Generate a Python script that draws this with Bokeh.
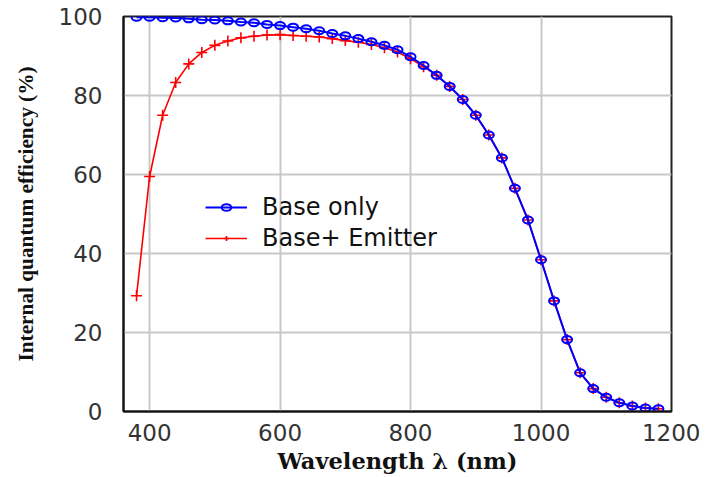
from bokeh.plotting import figure
from bokeh.models import Legend, LegendItem, FixedTicker, ColumnDataSource
from bokeh.embed import file_html
from bokeh.resources import INLINE

wavelength = [380, 400, 420, 440, 460, 480, 500, 520, 540, 560, 580, 600, 620, 640,
              660, 680, 700, 720, 740, 760, 780, 800, 820, 840, 860, 880, 900, 920,
              940, 960, 980, 1000, 1020, 1040, 1060, 1080, 1100, 1120, 1140, 1160, 1180]
base_only = [99.8, 99.8, 99.7, 99.6, 99.4, 99.2, 99.1, 98.9, 98.6, 98.4, 98.0, 97.7, 97.3, 96.9,
             96.4, 95.7, 95.1, 94.4, 93.6, 92.7, 91.6, 89.8, 87.6, 85.1, 82.3, 79.0, 75.0, 70.0,
             64.2, 56.5, 48.5, 38.4, 28.0, 18.2, 9.8, 5.8, 3.6, 2.2, 1.4, 0.9, 0.7]
base_emitter = [29.3, 59.5, 75.0, 83.3, 88.0, 90.9, 92.7, 93.8, 94.6, 95.0, 95.3, 95.4, 95.2, 95.0,
                94.8, 94.4, 93.9, 93.5, 92.9, 92.1, 91.0, 89.3, 87.3, 85.1, 82.3, 79.0, 75.0, 70.0,
                64.2, 56.5, 48.5, 38.4, 28.0, 18.2, 9.8, 5.8, 3.6, 2.2, 1.4, 0.9, 0.7]
x_ticks = [400, 600, 800, 1000, 1200]
y_ticks = [0, 20, 40, 60, 80, 100]

src_b = ColumnDataSource(dict(x=wavelength, y=base_only))
src_r = ColumnDataSource(dict(x=wavelength, y=base_emitter))

p = figure(width=700, height=476, x_range=(360, 1200), y_range=(0, 100),
           output_backend="svg", toolbar_location=None,
           min_border_left=123, min_border_right=29, min_border_top=16, min_border_bottom=64)

p.outline_line_color = "#222222"
p.outline_line_width = 2

for ax in (p.xaxis[0], p.yaxis[0]):
    ax.major_tick_line_color = None
    ax.minor_tick_line_color = None
    ax.axis_line_color = "#111111"
    ax.axis_line_width = 2
    ax.major_label_text_font = "DejaVu Sans"
    ax.major_label_text_font_size = "23px"
    ax.major_label_text_color = "#333333"

p.xaxis.ticker = FixedTicker(ticks=x_ticks)
p.yaxis.ticker = FixedTicker(ticks=y_ticks)
p.xaxis.major_label_standoff = 6
p.yaxis.major_label_standoff = 15

p.xaxis.axis_label = "Wavelength \u03bb (nm)"
p.xaxis.axis_label_text_font = "DejaVu Serif"
p.xaxis.axis_label_text_font_style = "bold"
p.xaxis.axis_label_text_font_size = "22.5px"
p.xaxis.axis_label_standoff = 4
p.xaxis.axis_label_text_color = "#111111"

p.yaxis.axis_label = "Internal quantum efficiency (%)"
p.yaxis.axis_label_text_font = "Liberation Serif"
p.yaxis.axis_label_text_font_style = "bold"
p.yaxis.axis_label_text_font_size = "21.3px"
p.yaxis.axis_label_standoff = 18
p.yaxis.axis_label_text_color = "#111111"

p.xgrid.ticker = FixedTicker(ticks=x_ticks)
p.ygrid.ticker = FixedTicker(ticks=y_ticks)
p.grid.grid_line_color = "#c8c8c8"
p.grid.grid_line_width = 2

r_line = p.line("x", "y", source=src_r, line_color="#ff0000", line_width=1.6)
r_mark = p.scatter("x", "y", source=src_r, marker="cross", size=11, line_color="#ff0000", line_width=1.6)
b_line = p.line("x", "y", source=src_b, line_color="#0000ff", line_width=2)
b_mark = p.ellipse("x", "y", source=src_b, width=10, height=7, width_units="screen",
                   height_units="screen", fill_color=None, line_color="#0000ff", line_width=2)

legend = Legend(items=[LegendItem(label="Base only", renderers=[b_line, b_mark]),
                       LegendItem(label="Base+ Emitter", renderers=[r_line, r_mark])],
                location=(82, 159), orientation="vertical",
                glyph_width=42, glyph_height=12, label_standoff=15, spacing=3,
                padding=0, margin=0, border_line_color=None, background_fill_alpha=0,
                label_text_font="DejaVu Sans", label_text_font_size="24px",
                label_text_color="#111111", label_height=24)
p.add_layout(legend, "center")

open("out.html", "w").write(file_html(p, INLINE))
